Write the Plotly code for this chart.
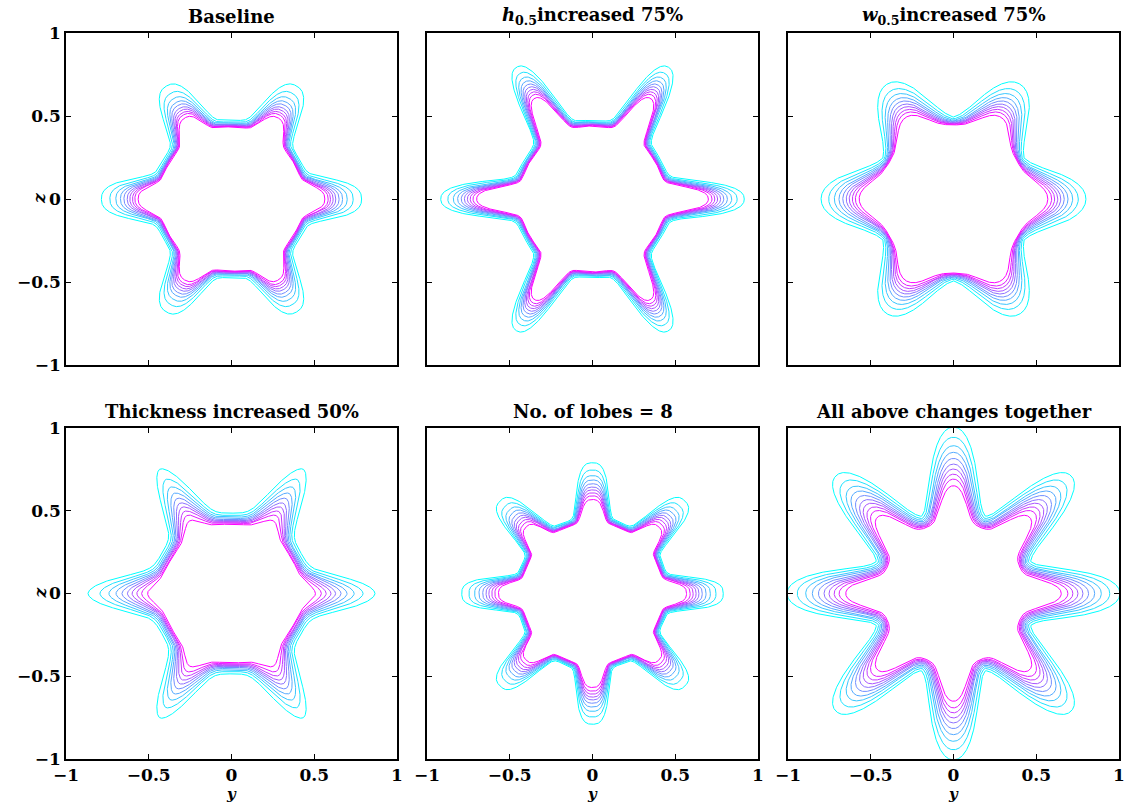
import numpy as np
import plotly.graph_objects as go

# ---------------- data ----------------
panel_titles = [
    "Baseline",
    "<i>h</i><sub>0.5</sub>increased 75%",
    "<i>w</i><sub>0.5</sub>increased 75%",
    "Thickness increased 50%",
    "No. of lobes = 8",
    "All above changes together",
]
n_lobes = [6, 6, 6, 6, 8, 8]

# radius of each contour (inner -> outer) on a lobe axis
tip_r_1 = [0.564, 0.584, 0.598, 0.614, 0.630, 0.650, 0.671, 0.699, 0.735, 0.786]
tip_r_2 = [0.700, 0.722, 0.739, 0.756, 0.774, 0.793, 0.815, 0.841, 0.874, 0.917]
tip_r_3 = [0.570, 0.593, 0.611, 0.630, 0.648, 0.669, 0.692, 0.720, 0.754, 0.800]
tip_r_4 = [0.507, 0.543, 0.572, 0.601, 0.629, 0.662, 0.698, 0.741, 0.795, 0.867]
tip_r_5 = [0.568, 0.590, 0.608, 0.626, 0.643, 0.663, 0.686, 0.712, 0.746, 0.790]
tip_r_6 = [0.651, 0.691, 0.721, 0.752, 0.782, 0.816, 0.853, 0.893, 0.944, 1.005]

# radius of each contour between the lobes
base_r_1 = [0.435, 0.439, 0.441, 0.444, 0.447, 0.450, 0.454, 0.459, 0.466, 0.475]
base_r_2 = [0.440, 0.444, 0.446, 0.449, 0.452, 0.455, 0.459, 0.463, 0.468, 0.475]
base_r_3 = [0.445, 0.449, 0.451, 0.454, 0.457, 0.460, 0.464, 0.468, 0.473, 0.480]
base_r_4 = [0.420, 0.427, 0.432, 0.437, 0.442, 0.448, 0.454, 0.462, 0.472, 0.485]
base_r_5 = [0.430, 0.433, 0.435, 0.438, 0.440, 0.443, 0.446, 0.450, 0.454, 0.460]
base_r_6 = [0.430, 0.437, 0.442, 0.447, 0.453, 0.458, 0.465, 0.472, 0.480, 0.490]

# angular half-width of each contour's lobe (degrees)
lobe_w_1 = [10.4, 10.6, 10.7, 10.85, 11.0, 11.2, 11.4, 11.6, 11.95, 12.4]
lobe_w_2 = [8.5, 8.64, 8.75, 8.86, 8.98, 9.1, 9.24, 9.41, 9.62, 9.9]
lobe_w_3 = [14.0, 14.3, 14.6, 14.8, 15.1, 15.4, 15.7, 16.1, 16.6, 17.2]
lobe_w_4 = [9.5, 9.6, 9.65, 9.75, 9.8, 9.9, 10.0, 10.1, 10.2, 10.4]
lobe_w_5 = [8.6, 8.75, 8.85, 8.95, 9.05, 9.2, 9.35, 9.5, 9.7, 10.0]
lobe_w_6 = [10.0, 10.3, 10.5, 10.75, 11.0, 11.25, 11.55, 11.85, 12.2, 12.6]

# lobe profile exponent per panel
lobe_p = [2.6, 2.4, 2.1, 1.8, 3.0, 2.2]

tick_vals = [-1, -0.5, 0, 0.5, 1]
tick_text = ["\u22121", "\u22120.5", "0", "0.5", "1"]

tips = [tip_r_1, tip_r_2, tip_r_3, tip_r_4, tip_r_5, tip_r_6]
bases = [base_r_1, base_r_2, base_r_3, base_r_4, base_r_5, base_r_6]
widths = [lobe_w_1, lobe_w_2, lobe_w_3, lobe_w_4, lobe_w_5, lobe_w_6]

# ---------------- layout geometry (pixels) ----------------
W, H = 1127, 804
col_px = [(66, 397), (427, 758), (788, 1119)]
row_px = [(33, 365), (428, 759)]

fig = go.Figure()
theta = np.linspace(0, 2 * np.pi, 2161)
font_fam = "DejaVu Serif"

def cool(t):
    # t=0 -> cyan, t=1 -> magenta (MATLAB 'cool')
    return "rgb(%d,%d,%d)" % (round(255 * t), round(255 * (1 - t)), 255)

for i in range(6):
    r_i, c_i = divmod(i, 3)
    ax = i + 1
    xname = "xaxis" if ax == 1 else "xaxis%d" % ax
    yname = "yaxis" if ax == 1 else "yaxis%d" % ax
    x0, x1 = col_px[c_i]
    y0, y1 = row_px[r_i]
    N = n_lobes[i]
    period = 2 * np.pi / N
    d = np.mod(theta + period / 2, period) - period / 2
    nlev = len(tips[i])
    for k in range(nlev - 1, -1, -1):
        sig = np.deg2rad(widths[i][k])
        r = bases[i][k] + (tips[i][k] - bases[i][k]) * np.exp(-np.abs(d / sig) ** lobe_p[i])
        t = 1 - k / (nlev - 1)
        fig.add_trace(go.Scatter(
            x=r * np.cos(theta), y=r * np.sin(theta), mode="lines",
            line=dict(color=cool(t), width=1), hoverinfo="skip", showlegend=False,
            xaxis="x" if ax == 1 else "x%d" % ax,
            yaxis="y" if ax == 1 else "y%d" % ax,
        ))
    common = dict(range=[-1, 1], tickvals=tick_vals, ticktext=tick_text,
                  ticks="inside", ticklen=5, tickwidth=1, tickcolor="black",
                  showline=True, linecolor="black", linewidth=1.5, mirror="ticks",
                  showgrid=False, zeroline=False, fixedrange=True, automargin=False,
                  tickfont=dict(family=font_fam, size=17, color="black", weight="bold"))
    fig.layout[xname] = dict(common, domain=[x0 / W, x1 / W],
                             anchor="y" if ax == 1 else "y%d" % ax,
                             showticklabels=(r_i == 1))
    fig.layout[yname] = dict(common, domain=[1 - y1 / H, 1 - y0 / H],
                             anchor="x" if ax == 1 else "x%d" % ax,
                             showticklabels=(c_i == 0))
    # title
    fig.add_annotation(text="<b>%s</b>" % panel_titles[i], xref="paper", yref="paper",
                       x=(x0 + x1) / 2 / W, y=1 - (y0 - 17) / H, showarrow=False,
                       xanchor="center", yanchor="middle",
                       font=dict(family=font_fam, size=18, color="black"))
    if c_i == 0:
        fig.add_annotation(text="<b><i>z</i></b>", xref="paper", yref="paper",
                           x=39 / W, y=1 - (y0 + y1) / 2 / H, showarrow=False,
                           textangle=-90, xanchor="center", yanchor="middle",
                           font=dict(family=font_fam, size=17, color="black"))
    if r_i == 1:
        fig.add_annotation(text="<b><i>y</i></b>", xref="paper", yref="paper",
                           x=(x0 + x1) / 2 / W, y=0, showarrow=False,
                           xanchor="center", yanchor="bottom", borderpad=0,
                           font=dict(family=font_fam, size=15, color="black"))

fig.update_layout(width=W, height=H, margin=dict(l=0, r=0, t=0, b=0, autoexpand=False),
                  paper_bgcolor="white", plot_bgcolor="white", showlegend=False)
fig.write_html("out.html")
